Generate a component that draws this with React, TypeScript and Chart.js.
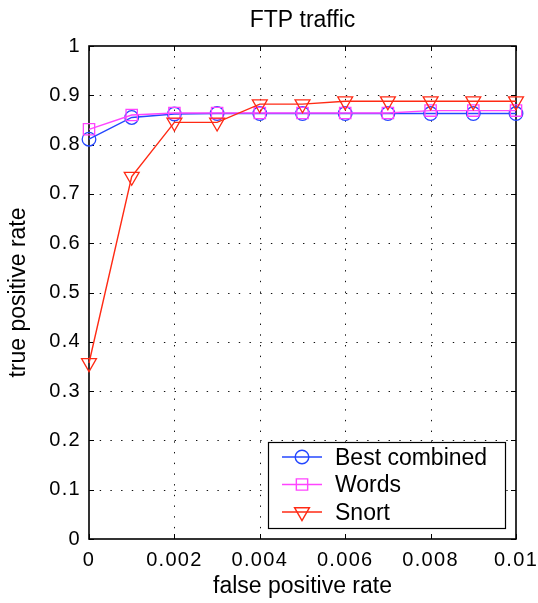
import React, { useEffect, useRef } from 'react';
import { Chart, registerables } from 'chart.js';

Chart.register(...registerables);

// ---------- data ----------
const falsePositiveRate = [0, 0.001, 0.002, 0.003, 0.004, 0.005, 0.006, 0.007, 0.008, 0.009, 0.01];
const bestCombined = [0.811, 0.855, 0.862, 0.863, 0.863, 0.863, 0.863, 0.863, 0.863, 0.863, 0.863];
const words = [0.831, 0.86, 0.864, 0.864, 0.864, 0.864, 0.864, 0.864, 0.869, 0.869, 0.869];
const snort = [0.357, 0.735, 0.845, 0.845, 0.882, 0.882, 0.888, 0.888, 0.888, 0.888, 0.888];

const seriesLabels = ['Best combined', 'Words', 'Snort'];
const xTickValues = [0, 0.002, 0.004, 0.006, 0.008, 0.01];
const xTickLabels = ['0', '0.002', '0.004', '0.006', '0.008', '0.01'];
const yTickValues = [0, 0.1, 0.2, 0.3, 0.4, 0.5, 0.6, 0.7, 0.8, 0.9, 1];
const yTickLabels = ['0', '0.1', '0.2', '0.3', '0.4', '0.5', '0.6', '0.7', '0.8', '0.9', '1'];
const chartTitle = 'FTP traffic';
const xAxisTitle = 'false positive rate';
const yAxisTitle = 'true positive rate';

// ---------- style ----------
const FONT = '"Liberation Sans", Arial, Helvetica, sans-serif';
const BLUE = '#2447ff';
const MAGENTA = '#ff44ff';
const RED = '#ff2a14';
const TICK_SPACING = '1.3px';
const LABEL_FONT_SIZE = 23;
const TICK_FONT_SIZE = 20;

// tick labels get a little letter spacing; titles and legend none
const spacingPlugin = {
  id: 'letterSpacing',
  beforeUpdate(chart: any) { chart.ctx.letterSpacing = TICK_SPACING; },
  beforeLayout(chart: any) { chart.ctx.letterSpacing = TICK_SPACING; },
  beforeDraw(chart: any) { chart.ctx.letterSpacing = '0px'; },
  afterDatasetsDraw(chart: any) { chart.ctx.letterSpacing = TICK_SPACING; },
  afterDraw(chart: any) { chart.ctx.letterSpacing = '0px'; },
};

const framePlugin = {
  id: 'matlabFrame',
  beforeDatasetsDraw(chart: any) {
    const { ctx, chartArea, scales } = chart;
    const { left, right, top, bottom } = chartArea;
    const xs = scales.x;
    const ys = scales.y;
    ctx.save();
    ctx.strokeStyle = '#111';
    ctx.lineWidth = 1;
    ctx.setLineDash([1.4, 9.3]);
    xTickValues.forEach((v) => {
      const px = Math.round(xs.getPixelForValue(v)) + 0.5;
      if (px <= left + 2 || px >= right - 2) return;
      ctx.beginPath();
      ctx.moveTo(px, bottom);
      ctx.lineTo(px, top);
      ctx.stroke();
    });
    yTickValues.forEach((v) => {
      const py = Math.round(ys.getPixelForValue(v)) + 0.5;
      if (py <= top + 2 || py >= bottom - 2) return;
      ctx.beginPath();
      ctx.moveTo(left, py);
      ctx.lineTo(right, py);
      ctx.stroke();
    });
    ctx.setLineDash([]);
    ctx.strokeStyle = '#000';
    ctx.lineWidth = 1;
    const tl = 5;
    xTickValues.forEach((v) => {
      const px = Math.round(xs.getPixelForValue(v)) + 0.5;
      ctx.beginPath();
      ctx.moveTo(px, bottom); ctx.lineTo(px, bottom - tl);
      ctx.moveTo(px, top); ctx.lineTo(px, top + tl);
      ctx.stroke();
    });
    yTickValues.forEach((v) => {
      const py = Math.round(ys.getPixelForValue(v)) + 0.5;
      ctx.beginPath();
      ctx.moveTo(left, py); ctx.lineTo(left + tl, py);
      ctx.moveTo(right, py); ctx.lineTo(right - tl, py);
      ctx.stroke();
    });
    ctx.lineWidth = 1.6;
    ctx.strokeRect(left, top, right - left, bottom - top);
    ctx.restore();
  },
};

function drawMarker(ctx: CanvasRenderingContext2D, style: string, x: number, y: number, r: number) {
  ctx.beginPath();
  if (style === 'circle') {
    ctx.arc(x, y, r, 0, Math.PI * 2);
  } else if (style === 'rect') {
    const s = r * Math.SQRT1_2;
    ctx.rect(x - s, y - s, 2 * s, 2 * s);
  } else {
    for (let k = 0; k < 3; k++) {
      const a = Math.PI + k * (2 * Math.PI / 3);
      const px = x + Math.sin(a) * r;
      const py = y - Math.cos(a) * r;
      if (k === 0) ctx.moveTo(px, py); else ctx.lineTo(px, py);
    }
    ctx.closePath();
  }
  ctx.stroke();
}

const legendPlugin = {
  id: 'matlabLegend',
  afterDatasetsDraw(chart: any) {
    const { ctx, chartArea } = chart;
    const boxW = 237;
    const boxH = 86;
    const bx = chartArea.right - 11 - boxW;
    const by = chartArea.bottom - 11 - boxH;
    ctx.save();
    ctx.letterSpacing = '0px';
    ctx.fillStyle = '#fff';
    ctx.fillRect(bx, by, boxW, boxH);
    ctx.strokeStyle = '#000';
    ctx.lineWidth = 1.2;
    ctx.strokeRect(bx + 0.5, by + 0.5, boxW, boxH);
    chart.data.datasets.forEach((ds: any, i: number) => {
      const cy = by + 15 + i * 27.5;
      ctx.strokeStyle = ds.borderColor;
      ctx.lineWidth = ds.borderWidth;
      ctx.beginPath();
      ctx.moveTo(bx + 14, cy);
      ctx.lineTo(bx + 54, cy);
      ctx.stroke();
      drawMarker(ctx, ds.pointStyle === 'triangle' ? 'tri' : ds.pointStyle, bx + 34, cy, ds.pointRadius);
      ctx.fillStyle = '#000';
      ctx.font = `${LABEL_FONT_SIZE}px ${FONT}`;
      ctx.textAlign = 'left';
      ctx.textBaseline = 'middle';
      ctx.fillText(ds.label, bx + 67, cy + 1.5);
    });
    ctx.restore();
  },
};

export default function App() {
  const canvasRef = useRef<HTMLCanvasElement | null>(null);

  useEffect(() => {
    const canvas = canvasRef.current;
    if (!canvas) return;
    const mk = (arr: number[]) => arr.map((v, i) => ({ x: falsePositiveRate[i], y: v }));
    const common = {
      backgroundColor: 'transparent',
      borderWidth: 1.4,
      pointBorderWidth: 1.3,
      pointBackgroundColor: 'transparent',
      clip: false,
    };
    const chart = new Chart(canvas, {
      type: 'line',
      data: {
        datasets: [
          {
            ...common,
            label: seriesLabels[0],
            data: mk(bestCombined),
            borderColor: BLUE,
            pointBorderColor: BLUE,
            pointStyle: 'circle',
            pointRadius: 6.8,
            pointHoverRadius: 6.8,
            order: 3,
          },
          {
            ...common,
            label: seriesLabels[1],
            data: mk(words),
            borderColor: MAGENTA,
            pointBorderColor: MAGENTA,
            pointStyle: 'rect',
            pointRadius: 8,
            pointHoverRadius: 8,
            order: 2,
          },
          {
            ...common,
            label: seriesLabels[2],
            data: mk(snort),
            borderColor: RED,
            pointBorderColor: RED,
            pointStyle: 'triangle',
            pointRotation: 180,
            pointRadius: 8.6,
            pointHoverRadius: 8.6,
            order: 1,
          },
        ] as any,
      },
      options: {
        animation: false,
        responsive: false,
        devicePixelRatio: 1,
        events: [],
        layout: { padding: { left: 0, right: 22, top: 0, bottom: 0 } },
        plugins: {
          legend: { display: false },
          tooltip: { enabled: false },
          title: {
            display: true,
            text: chartTitle,
            fullSize: false,
            color: '#000',
            font: { family: FONT, size: LABEL_FONT_SIZE, weight: 'normal' },
            padding: { top: 6.5, bottom: 11.9 },
          },
        },
        scales: {
          x: {
            type: 'linear',
            min: 0,
            max: 0.01,
            afterBuildTicks: (s: any) => { s.ticks = xTickValues.map((v) => ({ value: v })); },
            afterFit: (s: any) => { s.height = 64; s.paddingLeft = 0; s.paddingRight = 0; },
            ticks: {
              callback: (_v: any, i: number) => xTickLabels[i],
              font: { family: FONT, size: TICK_FONT_SIZE },
              color: '#000',
              padding: 9,
              maxRotation: 0,
              autoSkip: false,
              z: 1,
            },
            grid: { display: false, drawTicks: false },
            border: { display: false },
            title: {
              display: true,
              text: xAxisTitle,
              color: '#000',
              font: { family: FONT, size: LABEL_FONT_SIZE },
              padding: { top: 0, bottom: 2.2 },
            },
          },
          y: {
            type: 'linear',
            min: 0,
            max: 1,
            afterBuildTicks: (s: any) => { s.ticks = yTickValues.map((v) => ({ value: v })); },
            afterFit: (s: any) => { s.width = 89; s.paddingTop = 0; s.paddingBottom = 0; },
            ticks: {
              callback: (_v: any, i: number) => yTickLabels[i],
              font: { family: FONT, size: TICK_FONT_SIZE },
              color: '#000',
              padding: 8,
              autoSkip: false,
              z: 1,
            },
            grid: { display: false, drawTicks: false },
            border: { display: false },
            title: {
              display: true,
              text: yAxisTitle,
              color: '#000',
              font: { family: FONT, size: LABEL_FONT_SIZE },
              padding: { top: 4.6, bottom: 0 },
            },
          },
        },
      } as any,
      plugins: [spacingPlugin, framePlugin, legendPlugin],
    });
    return () => chart.destroy();
  }, []);

  return (
    <div style={{ position: 'absolute', left: 0, top: 0, width: 538, height: 603, background: '#fff' }}>
      <canvas ref={canvasRef} width={538} height={603} style={{ display: 'block', width: 538, height: 603 }} />
    </div>
  );
}
